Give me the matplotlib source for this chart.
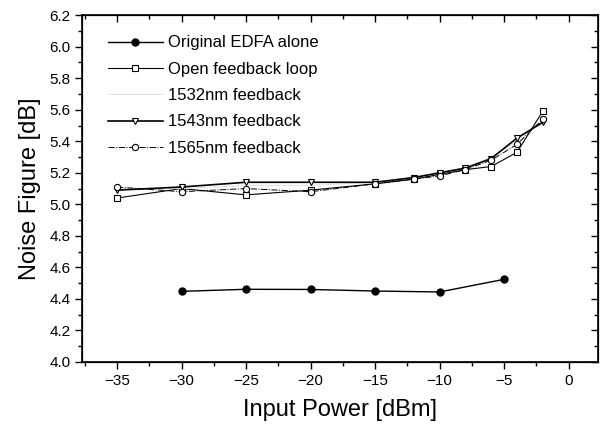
import matplotlib
matplotlib.use("Agg")
import matplotlib.pyplot as plt
from matplotlib.ticker import MultipleLocator, FormatStrFormatter

plt.rcParams['font.family'] = ['Liberation Sans', 'DejaVu Sans']

# data
x_edfa = [-30, -25, -20, -15, -10, -5]
nf_edfa = [4.448, 4.461, 4.46, 4.45, 4.444, 4.524]

x_fb = [-35, -30, -25, -20, -15, -12, -10, -8, -6, -4, -2]
nf_open = [5.04, 5.10, 5.06, 5.09, 5.13, 5.16, 5.19, 5.22, 5.24, 5.33, 5.59]
nf_1532 = [5.10, 5.10, 5.12, 5.12, 5.14, 5.17, 5.20, 5.23, 5.30, 5.40, 5.53]
nf_1543 = [5.09, 5.11, 5.14, 5.14, 5.14, 5.17, 5.20, 5.23, 5.29, 5.42, 5.52]
nf_1565 = [5.11, 5.08, 5.10, 5.08, 5.13, 5.16, 5.18, 5.22, 5.28, 5.38, 5.54]

fig = plt.figure(figsize=(6, 4.34), dpi=100)
ax = fig.add_axes([0.137, 0.166, 0.86, 0.799])

ax.plot(x_edfa, nf_edfa, '-o', color='black', lw=1.0, ms=5,
        label='Original EDFA alone')
ax.plot(x_fb, nf_open, '-s', color='black', lw=0.8, ms=5, mfc='white',
        mew=0.8, label='Open feedback loop')
ax.plot(x_fb, nf_1532, '-', color='#e4e4e4', lw=0.8,
        label='1532nm feedback')
ax.plot(x_fb, nf_1543, '-v', color='black', lw=1.2, ms=5, mfc='white',
        mew=0.8, label='1543nm feedback')
ax.plot(x_fb, nf_1565, '-.o', color='black', lw=0.7, ms=4.5, mfc='white',
        mew=0.8, label='1565nm feedback')

ax.set_xlim(-37.7, 2.3)
ax.set_ylim(4.0, 6.2)
ax.xaxis.set_major_locator(MultipleLocator(5))
ax.xaxis.set_minor_locator(MultipleLocator(2.5))
ax.yaxis.set_major_locator(MultipleLocator(0.2))
ax.yaxis.set_minor_locator(MultipleLocator(0.1))
ax.yaxis.set_major_formatter(FormatStrFormatter('%.1f'))
ax.tick_params(which='both', direction='out', top=False, right=False,
               labelsize=11, width=1)
ax.tick_params(which='major', length=5)
ax.tick_params(which='minor', length=3)
for s in ax.spines.values():
    s.set_linewidth(1.2)

# mirrored inward ticks on top and right
ax2 = ax.twinx()
ax2.set_ylim(ax.get_ylim())
ax2.yaxis.set_major_locator(MultipleLocator(0.2))
ax2.yaxis.set_minor_locator(MultipleLocator(0.1))
ax2.tick_params(which='both', direction='in', labelright=False, width=1)
ax2.tick_params(which='major', length=5)
ax2.tick_params(which='minor', length=3)
ax3 = ax.twiny()
ax3.set_xlim(ax.get_xlim())
ax3.xaxis.set_major_locator(MultipleLocator(5))
ax3.xaxis.set_minor_locator(MultipleLocator(2.5))
ax3.tick_params(which='both', direction='in', labeltop=False, width=1)
ax3.tick_params(which='major', length=5)
ax3.tick_params(which='minor', length=3)

ax.set_xlabel('Input Power [dBm]', fontsize=17, labelpad=8)
ax.set_ylabel('Noise Figure [dB]', fontsize=17, labelpad=6)

ax.legend(loc='upper left', frameon=False, fontsize=12, handlelength=3.3,
          handletextpad=0.3, borderaxespad=0.5, labelspacing=0.68,
          bbox_to_anchor=(0.02, 0.985))

fig.savefig('out.png', dpi=100)
